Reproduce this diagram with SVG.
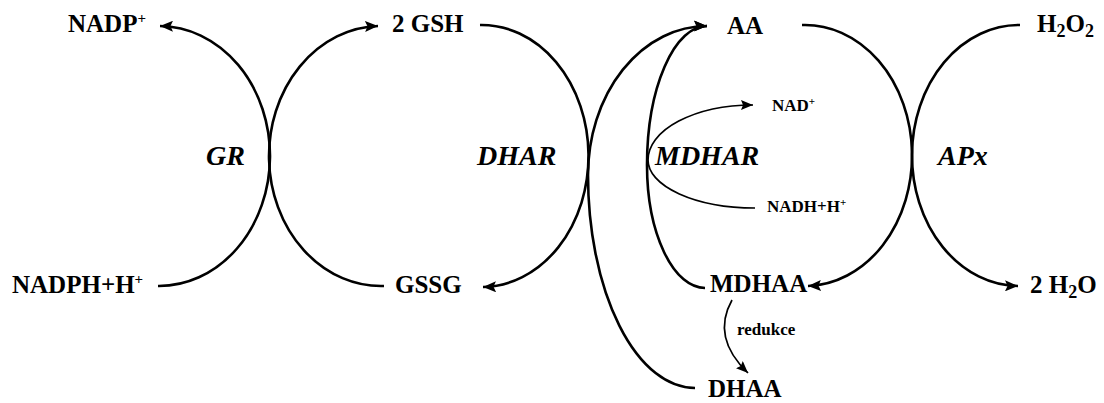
<svg xmlns="http://www.w3.org/2000/svg" width="1104" height="403" viewBox="0 0 1104 403">
  <style>
    .t { font-family: "Liberation Serif", "Times New Roman", serif; font-weight: bold; font-size: 25px; fill: #000; }
    .e { font-family: "Liberation Serif", "Times New Roman", serif; font-weight: bold; font-style: italic; font-size: 28px; fill: #000; }
    .s { font-family: "Liberation Serif", "Times New Roman", serif; font-weight: bold; font-size: 17px; fill: #000; }
    .c { fill: none; stroke: #000; stroke-width: 2.6; }
    .cs { fill: none; stroke: #000; stroke-width: 1.7; }
  </style>
  <defs>
    <marker id="ah" markerUnits="userSpaceOnUse" markerWidth="14" markerHeight="11" refX="13" refY="5.5" orient="auto">
      <path d="M0,0 L13,5.5 L0,11 L2.5,5.5 z" fill="#000"/>
    </marker>
    <marker id="ahs" markerUnits="userSpaceOnUse" markerWidth="13" markerHeight="10" refX="12" refY="5" orient="auto">
      <path d="M0,0 L12,5 L0,10 L2,5 z" fill="#000"/>
    </marker>
  </defs>

  <g id="connectors">
    <!-- GR -->
    <path class="c" d="M158,286 A111,130 0 0 0 160,26" marker-end="url(#ah)"/>
    <path class="c" d="M384,286 A112,130 0 0 1 378,26" marker-end="url(#ah)"/>
    <!-- DHAR -->
    <path class="c" d="M480,25 A107,131 0 0 1 483,287" marker-end="url(#ah)"/>
    <path class="c" d="M695,388 A107,213 0 0 1 588,175 A119,149 0 0 1 707,26" marker-end="url(#ah)"/>
    <!-- MDHAR -->
    <path class="c" d="M705,288 A58,123 0 0 1 647,165 A60,139 0 0 1 707,26" marker-end="url(#ah)"/>
    <path class="cs" d="M755,208 A107,48 0 0 1 648,160 A105,55 0 0 1 753,105" marker-end="url(#ahs)"/>
    <!-- APx -->
    <path class="c" d="M802,25 A107,130.5 0 0 1 808,286" marker-end="url(#ah)"/>
    <path class="c" d="M1020,25 A107,130.5 0 0 0 1018,286" marker-end="url(#ah)"/>
    <!-- redukce -->
    <path class="cs" d="M732,300 C718,325 724,350 748,373" marker-end="url(#ahs)"/>
  </g>

  <g id="NADP"><text class="t" x="68" y="32">NADP<tspan font-size="15" dy="-9">+</tspan></text></g>
  <g id="GSH"><text class="t" x="392" y="32">2 GSH</text></g>
  <g id="AA"><text class="t" x="727" y="34">AA</text></g>
  <g id="H2O2"><text class="t" x="1037" y="32">H<tspan font-size="18" dy="5">2</tspan><tspan dy="-5">O</tspan><tspan font-size="18" dy="5">2</tspan></text></g>

  <g id="GR"><text class="e" x="206" y="165">GR</text></g>
  <g id="DHAR"><text class="e" x="477" y="165">DHAR</text></g>
  <g id="MDHAR"><text class="e" x="655" y="165">MDHAR</text></g>
  <g id="APx"><text class="e" x="938" y="165">APx</text></g>

  <g id="NAD"><text class="s" x="772" y="111">NAD<tspan font-size="11" dy="-6">+</tspan></text></g>
  <g id="NADH"><text class="s" x="767" y="212">NADH+H<tspan font-size="11" dy="-6">+</tspan></text></g>

  <g id="NADPH"><text class="t" x="12" y="293">NADPH+H<tspan font-size="15" dy="-9">+</tspan></text></g>
  <g id="GSSG"><text class="t" x="395" y="293">GSSG</text></g>
  <g id="MDHAA"><text class="t" x="710" y="292">MDHAA</text></g>
  <g id="H2O"><text class="t" x="1030" y="293">2 H<tspan font-size="18" dy="5">2</tspan><tspan dy="-5">O</tspan></text></g>

  <g id="redukce"><text class="s" x="737" y="335">redukce</text></g>
  <g id="DHAA"><text class="t" x="708" y="397">DHAA</text></g>
</svg>
